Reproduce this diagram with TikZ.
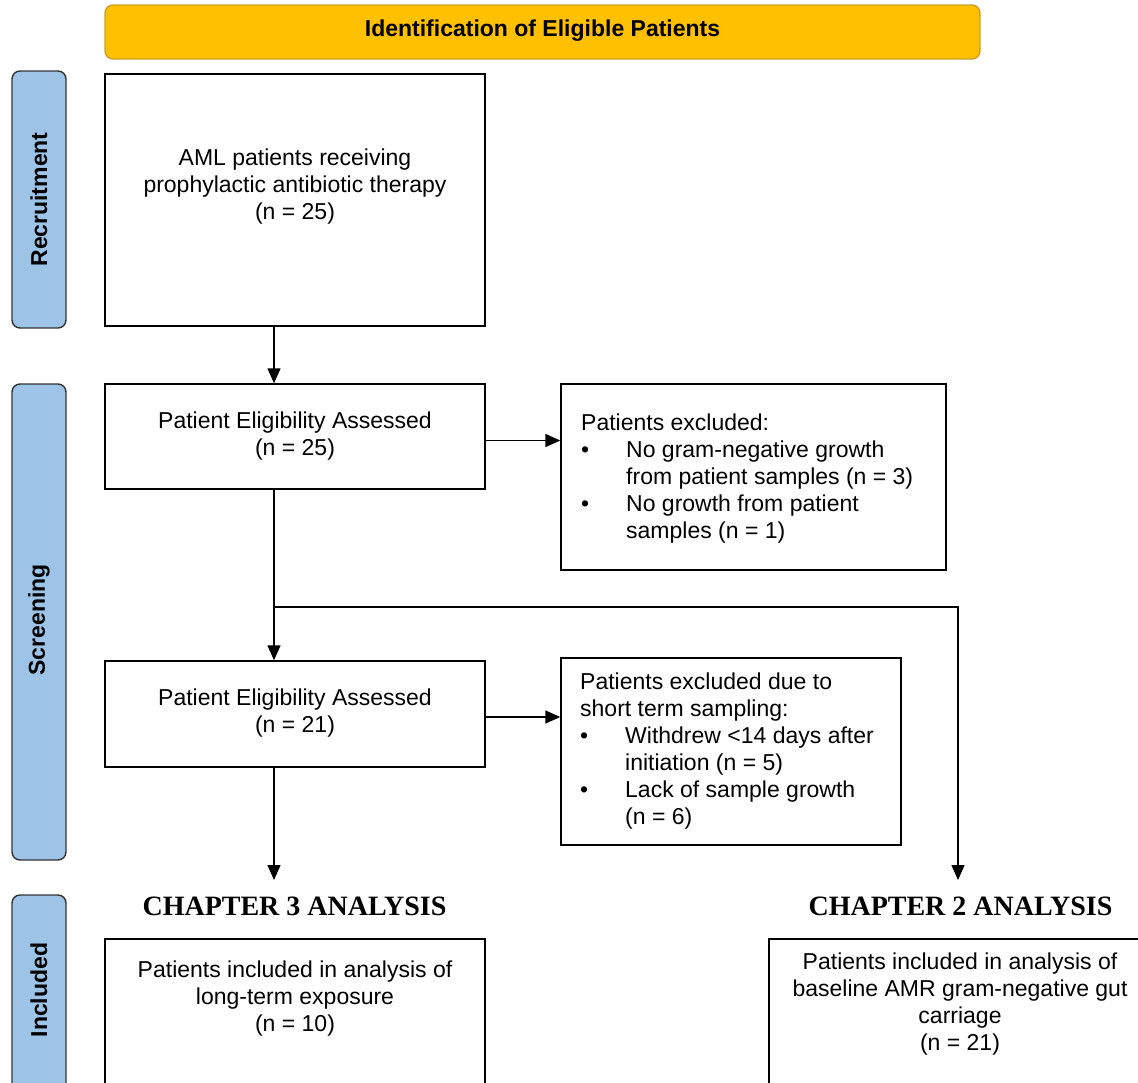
\documentclass[tikz,border=0pt]{standalone}
\usepackage{fontspec}
\setmainfont{Liberation Sans}
\newfontfamily\chapfont{Liberation Serif}
\usetikzlibrary{arrows.meta}
\definecolor{gold}{HTML}{FFC000}
\definecolor{goldline}{HTML}{C9A227}
\definecolor{tabblue}{HTML}{9DC3E6}
\definecolor{tabline}{HTML}{333333}
\newcommand{\bodyfs}{\fontsize{23}{27}\selectfont}
\newcommand{\bl}{\makebox[45pt][l]{\textbullet}}
\newcommand{\ind}{\hspace*{45pt}}
\tikzset{
  flowbox/.style={draw=black, line width=1.4pt, fill=white, minimum width=380pt, inner sep=0pt},
  tabbox/.style={draw=tabline, line width=1.4pt, fill=tabblue, rounded corners=8pt, minimum width=54pt, inner sep=0pt},
  tablabel/.style={rotate=90, font=\fontsize{23}{27}\selectfont\bfseries, inner sep=0pt},
  bodytext/.style={font=\bodyfs, align=center, inner sep=0pt},
  listtext/.style={font=\bodyfs, align=left, inner sep=0pt, anchor=north west},
  chaplabel/.style={font=\fontsize{28}{32}\selectfont\chapfont\bfseries, inner sep=0pt},
  arr/.style={line width=1.4pt, -{Triangle[length=15pt,width=13pt]}},
  conn/.style={line width=1.4pt}
}
\begin{document}
\begin{tikzpicture}[x=1pt,y=-1pt]
\useasboundingbox (0,0) rectangle (1138,1082);
\clip (0,0) rectangle (1138,1082);
\fill[white] (0,0) rectangle (1138,1082);

% title bar
\node[draw=goldline, line width=1.4pt, fill=gold, rounded corners=8pt, minimum width=875pt, minimum height=54pt, inner sep=0pt] (title) at (542.5,32) {};
\node[font=\fontsize{23}{27}\selectfont\bfseries, inner sep=0pt] (titletext) at (542.5,31) {Identification of Eligible Patients};

% side tabs
\node[tabbox, minimum height=257pt] (tabR) at (39,199.5) {};
\node[tablabel] (tabRtext) at (39,199.5) {Recruitment};
\node[tabbox, minimum height=476pt] (tabS) at (39,622) {};
\node[tablabel] (tabStext) at (39,620) {Screening};
\node[tabbox, minimum height=260pt] (tabI) at (39,1025) {};
\node[tablabel] (tabItext) at (39,990) {Included};

% main boxes
\node[flowbox, minimum height=252pt] (box1) at (295,200) {};
\node[bodytext] (box1text) at (295,187) {AML patients receiving\\prophylactic antibiotic therapy\\(n = 25)};

\node[flowbox, minimum height=105pt] (box2) at (295,436.5) {};
\node[bodytext] (box2text) at (295,436.5) {Patient Eligibility Assessed\\(n = 25)};

\node[flowbox, minimum height=106pt] (box3) at (295,714) {};
\node[bodytext] (box3text) at (295,713.5) {Patient Eligibility Assessed\\(n = 21)};

% exclusion boxes
\node[flowbox, minimum width=385pt, minimum height=186pt] (excl1) at (753.5,477) {};
\node[listtext] (excl1text) at (581,413.5) {Patients excluded:\\
\bl No gram-negative growth\\
\ind from patient samples (n = 3)\\
\bl No growth from patient\\
\ind samples (n = 1)};

\node[flowbox, minimum width=340pt, minimum height=187pt] (excl2) at (731,751.5) {};
\node[listtext] (excl2text) at (580,672.5) {Patients excluded due to\\
short term sampling:\\
\bl Withdrew <14 days after\\
\ind initiation (n = 5)\\
\bl Lack of sample growth\\
\ind (n = 6)};

% chapter labels
\node[chaplabel] (ch3) at (294.5,906) {CHAPTER 3 ANALYSIS};
\node[chaplabel] (ch2) at (960.5,906) {CHAPTER 2 ANALYSIS};
\coordinate (ch3top) at (274,880);
\coordinate (ch2top) at (958,880);

% included boxes (run off the page)
\node[flowbox, minimum height=200pt] (box4) at (295,1039) {};
\node[bodytext] (box4text) at (295,999) {Patients included in analysis of\\long-term exposure\\(n = 10)};
\node[flowbox, minimum width=400pt, minimum height=200pt] (box5) at (969,1039) {};
\node[bodytext] (box5text) at (960,1004) {Patients included in analysis of\\baseline AMR gram-negative gut\\carriage\\(n = 21)};

% connectors
\coordinate (br) at (274,607);
\draw[arr] ([xshift=-21pt]box1.south) -- ([xshift=-21pt]box2.north);
\draw[arr] ([xshift=-21pt]box2.south) -- ([xshift=-21pt]box3.north);
\draw[arr] ([yshift=-4pt]box2.east) -- ([yshift=-4pt]box2.east -| excl1.west);
\draw[arr] ([yshift=-3pt]box3.east) -- ([yshift=-3pt]box3.east -| excl2.west);
\draw[arr] (br) -| (ch2top);
\draw[arr] ([xshift=-21pt]box3.south) -- (ch3top);
\end{tikzpicture}
\end{document}
